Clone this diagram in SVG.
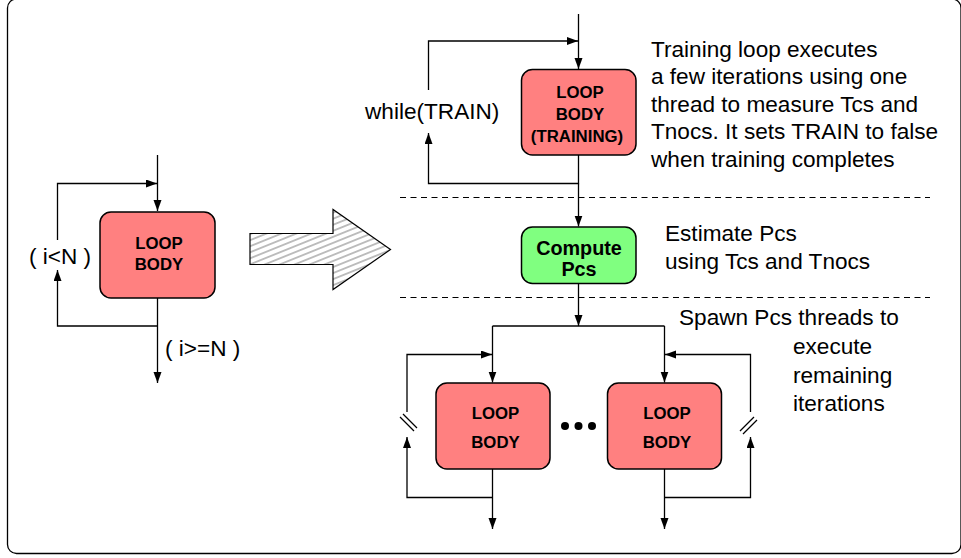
<svg xmlns="http://www.w3.org/2000/svg" width="961" height="558" viewBox="0 0 961 558">
<style>
  .frame{fill:#fff;stroke:#000;stroke-width:1.3}
  .box{fill:#ff8080;stroke:#000;stroke-width:1.5}
  .gbox{fill:#80ff80;stroke:#000;stroke-width:1.5}
  .ln{fill:none;stroke:#000;stroke-width:1.3}
  .arr{fill:none;stroke:#000;stroke-width:1.3;marker-end:url(#ah)}
  .dash{fill:none;stroke:#000;stroke-width:1.1;stroke-dasharray:6 4.5}
  .bt{font-family:"Liberation Sans",Arial,sans-serif;font-weight:bold;font-size:16.8px;text-anchor:middle;fill:#000}
  .ct{font-family:"Liberation Sans",Arial,sans-serif;font-weight:bold;font-size:19.8px;text-anchor:middle;fill:#000}
  .t{font-family:"Liberation Sans",Arial,sans-serif;font-size:22.6px;fill:#000}
</style>
<defs>
  <marker id="ah" markerUnits="userSpaceOnUse" markerWidth="12" markerHeight="10" refX="11" refY="4" orient="auto">
    <path d="M0,0 L11,4 L0,8 Z" fill="#000"/>
  </marker>
  <pattern id="hatch" patternUnits="userSpaceOnUse" width="8" height="5.6" patternTransform="rotate(-22)">
    <line x1="0" y1="2.8" x2="8" y2="2.8" stroke="#444" stroke-width="0.7"/>
  </pattern>
</defs>
<rect class="frame" x="7.5" y="-1" width="953.5" height="554.5" rx="9"/>

<g id="connectors">
  <!-- left original loop -->
  <path class="arr" d="M157.5,155 V211"/>
  <path class="arr" d="M157.5,326 H57.5 V270"/>
  <path class="arr" d="M57.5,240 V183.5 H157"/>
  <path class="arr" d="M157.5,298 V383"/>
  <!-- training loop -->
  <path class="arr" d="M578.5,14 V69"/>
  <path class="arr" d="M578.5,155 V183.5 H428.5 V133"/>
  <path class="arr" d="M428.5,90 V41 H578"/>
  <path class="arr" d="M578.5,183.5 V226.5"/>
  <!-- spawn -->
  <path class="arr" d="M578.5,283.5 V326"/>
  <path class="ln" d="M492.5,326 H664.5"/>
  <path class="arr" d="M492.5,326 V382.5"/>
  <path class="arr" d="M664.5,326 V382.5"/>
  <!-- left thread loop -->
  <path class="arr" d="M492.5,469 V529"/>
  <path class="arr" d="M492.5,497.5 H407 V437"/>
  <path class="arr" d="M407,412 V354.5 H492"/>
  <!-- right thread loop -->
  <path class="arr" d="M664.5,469 V529"/>
  <path class="arr" d="M664.5,497.5 H750.5 V437"/>
  <path class="arr" d="M750.5,412 V354.5 H665"/>
  <!-- break marks -->
  <path class="ln" d="M400,417 L414,431 M403,414 L417,428"/>
  <path class="ln" d="M740,431 L754,417 M743,434 L757,420"/>
</g>

<g id="separators">
  <line class="dash" x1="400" y1="197.5" x2="930" y2="197.5"/>
  <line class="dash" x1="400" y1="297.5" x2="930" y2="297.5"/>
</g>

<g id="transform-arrow">
  <polygon points="250,233.5 333,233.5 333,209.5 390.5,249.5 333,289.5 333,264.5 250,264.5" fill="url(#hatch)" stroke="#000" stroke-width="1.2"/>
</g>

<g id="loop-body">
  <rect class="box" x="100" y="212" width="115" height="86" rx="11"/>
  <text class="bt" x="159" y="249">LOOP</text>
  <text class="bt" x="159" y="269.5">BODY</text>
</g>
<text class="t" x="29" y="264">( i&lt;N )</text>
<text class="t" x="165" y="356">( i&gt;=N )</text>

<g id="loop-body-training">
  <rect class="box" x="521.5" y="69.5" width="114.5" height="85.5" rx="11"/>
  <text class="bt" x="580" y="98">LOOP</text>
  <text class="bt" x="580" y="119.5">BODY</text>
  <text class="bt" x="577" y="141.5">(TRAINING)</text>
</g>
<text class="t" x="365" y="119">while(TRAIN)</text>

<g id="compute-pcs">
  <rect class="gbox" x="521.5" y="227" width="114.5" height="56.5" rx="11"/>
  <text class="ct" x="579" y="255">Compute</text>
  <text class="ct" x="579" y="275.5">Pcs</text>
</g>

<g id="loop-body-1">
  <rect class="box" x="436" y="383" width="114" height="86" rx="11"/>
  <text class="bt" x="495.5" y="419">LOOP</text>
  <text class="bt" x="495.5" y="447.5">BODY</text>
</g>

<g id="ellipsis">
  <circle cx="565" cy="426" r="4" fill="#000"/>
  <circle cx="578.5" cy="426" r="4" fill="#000"/>
  <circle cx="592" cy="426" r="4" fill="#000"/>
</g>

<g id="loop-body-2">
  <rect class="box" x="607.5" y="383" width="114" height="86" rx="11"/>
  <text class="bt" x="667" y="419">LOOP</text>
  <text class="bt" x="667" y="447.5">BODY</text>
</g>

<g id="notes">
  <text class="t" x="651" y="56.5">Training loop executes</text>
  <text class="t" x="651" y="84">a few iterations using one</text>
  <text class="t" x="651" y="111.5">thread to measure Tcs and</text>
  <text class="t" x="651" y="139">Tnocs. It sets TRAIN to false</text>
  <text class="t" x="651" y="166.5">when training completes</text>
  <text class="t" x="665" y="240.5">Estimate Pcs</text>
  <text class="t" x="665" y="269">using Tcs and Tnocs</text>
  <text class="t" x="679" y="325">Spawn Pcs threads to</text>
  <text class="t" x="793" y="354">execute</text>
  <text class="t" x="793" y="383">remaining</text>
  <text class="t" x="793" y="410.5">iterations</text>
</g>
</svg>
